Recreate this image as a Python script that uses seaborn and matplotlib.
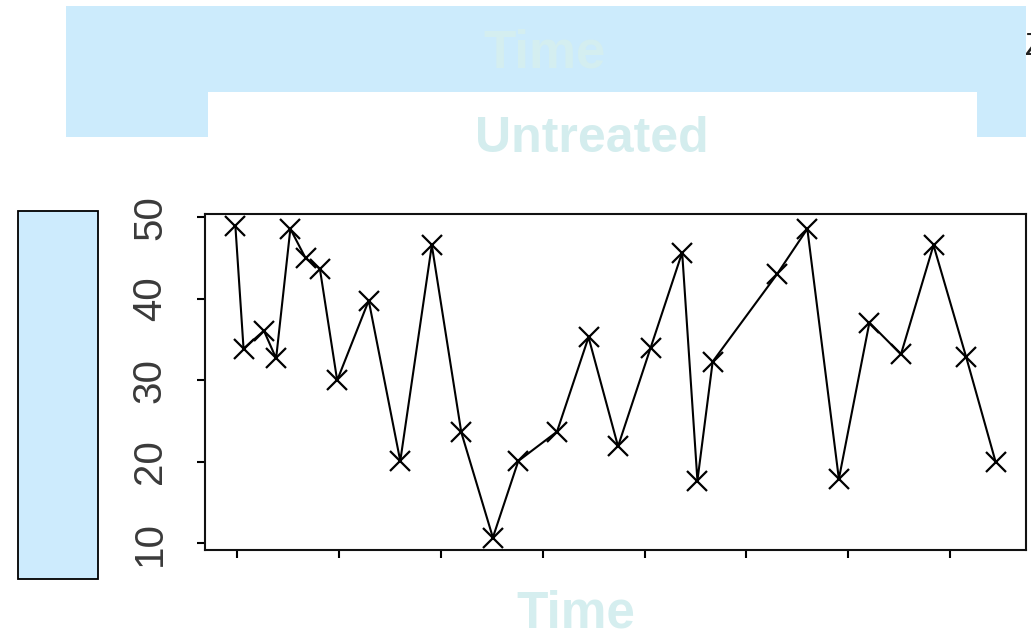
import matplotlib
matplotlib.use("Agg")
import matplotlib.pyplot as plt
from matplotlib.patches import Polygon, Rectangle
import seaborn as sns
import pandas as pd

# ---- data ----
time_values = [-0.2, 0.6, 2.6, 3.8, 5.2, 6.7, 8.1, 9.8, 12.9, 16.0, 19.1, 22.0,
               25.1, 27.6, 31.4, 34.5, 37.4, 40.6, 43.7, 45.2, 46.7, 53.0, 56.0,
               59.1, 62.1, 65.2, 68.4, 71.6, 74.5]
untreated_values = [48.9, 33.9, 36.1, 32.7, 48.6, 45.0, 43.7, 30.0, 39.8, 20.1,
                    46.6, 23.6, 10.7, 20.1, 23.7, 35.3, 21.9, 34.0, 45.7, 17.7,
                    32.3, 43.0, 48.6, 17.9, 37.1, 33.2, 46.6, 32.9, 20.0]
x_ticks = [0, 10, 20, 30, 40, 50, 60, 70]
y_ticks = [10, 20, 30, 40, 50]
title_text = "Untreated"
xlabel_text = "Time"
top_text = "Time"

df = pd.DataFrame({"Time": time_values, "Untreated": untreated_values})

sns.set_style("ticks")
W, H = 1031, 633
fig = plt.figure(figsize=(W / 100, H / 100), dpi=100)


def fx(px):
    return px / W


def fy(py):
    return 1 - py / H


ax = fig.add_axes([fx(205), fy(550), fx(1026) - fx(205), fy(214) - fy(550)])
sns.lineplot(data=df, x="Time", y="Untreated", ax=ax, sort=False, estimator=None,
             color="black", lw=1.5, marker="x", markersize=14,
             markeredgewidth=1.6, markeredgecolor="black")

# R style axis extension (4 %)
xr = max(time_values) - min(time_values)
yr = max(untreated_values) - min(untreated_values)
ax.set_xlim(min(time_values) - 0.04 * xr, max(time_values) + 0.04 * xr)
ax.set_ylim(min(untreated_values) - 0.04 * yr, max(untreated_values) + 0.04 * yr)

ax.set_xticks(x_ticks)
ax.set_xticklabels([])
ax.set_yticks(y_ticks)
ax.set_yticklabels([str(v) for v in y_ticks], rotation=90, va="center",
                   family="Liberation Sans", fontsize=29, color="#3a3a3a")
ax.tick_params(axis="both", which="major", direction="out", length=6,
               width=1.5, color="black", bottom=True, left=True,
               top=False, right=False)
ax.tick_params(axis="y", pad=20)
ax.set_xlabel("")
ax.set_ylabel("")
for s in ax.spines.values():
    s.set_visible(True)
    s.set_color("#111111")
    s.set_linewidth(1.5)

blue = "#CCEBFC"

# clipped text fragment at top right (behind the blue band)
fig.text(fx(1025), fy(55), "Z", fontsize=23, color="#222222",
         family="Liberation Sans", ha="left", va="baseline", zorder=1)

# top blue band with notch
band = Polygon([(fx(66), fy(6)), (fx(1026), fy(6)), (fx(1026), fy(137)),
                (fx(977), fy(137)), (fx(977), fy(92)), (fx(208), fy(92)),
                (fx(208), fy(137)), (fx(66), fy(137))],
               closed=True, transform=fig.transFigure, facecolor=blue,
               edgecolor="none", zorder=2)
fig.patches.append(band)

# left blue box
box = Rectangle((fx(18), fy(579)), fx(98) - fx(18), fy(211) - fy(579),
                transform=fig.transFigure, facecolor="#CDEBFD",
                edgecolor="black", linewidth=1.3, zorder=2)
fig.patches.append(box)

fig.text(fx(545), fy(68), top_text, fontsize=38, fontweight="bold",
         color="#D4EEF0", family="Liberation Sans", ha="center",
         va="baseline", zorder=3)
fig.text(fx(592), fy(152), title_text, fontsize=36, fontweight="bold",
         color="#D4EDEE", family="Liberation Sans", ha="center",
         va="baseline", zorder=3)
fig.text(fx(576), fy(627), xlabel_text, fontsize=37, fontweight="bold",
         color="#D5EEEF", family="Liberation Sans", ha="center",
         va="baseline", zorder=3)

fig.savefig("out.png", dpi=100)
